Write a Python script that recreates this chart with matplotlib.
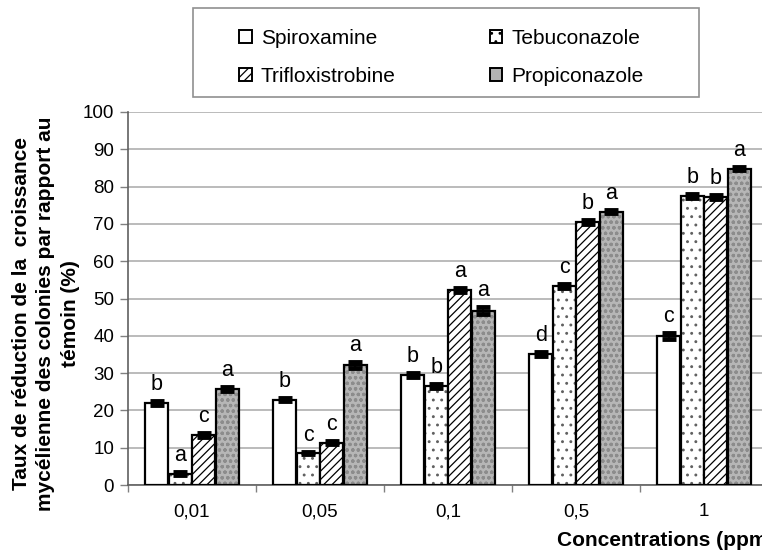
import matplotlib
matplotlib.use("Agg")
import matplotlib.pyplot as plt
from matplotlib.patches import Patch, Rectangle
import numpy as np

plt.rcParams['font.family'] = ['Liberation Sans', 'DejaVu Sans']
plt.rcParams['hatch.linewidth'] = 0.9

categories = ['0,01', '0,05', '0,1', '0,5', '1']
series = ['Spiroxamine', 'Tebuconazole', 'Trifloxistrobine', 'Propiconazole']
spiroxamine = [22.0, 22.8, 29.5, 35.2, 40.0]
tebuconazole = [3.0, 8.5, 26.5, 53.3, 77.5]
trifloxistrobine = [13.5, 11.3, 52.3, 70.5, 77.2]
propiconazole = [25.8, 32.3, 46.7, 73.3, 84.8]
err_spiro = [0.5, 0.4, 0.6, 0.5, 0.8]
err_tebu = [0.4, 0.3, 0.6, 0.6, 0.5]
err_trif = [0.5, 0.4, 0.5, 0.5, 0.5]
err_prop = [0.5, 0.8, 0.9, 0.5, 0.4]
letters_spiro = ['b', 'b', 'b', 'd', 'c']
letters_tebu = ['a', 'c', 'b', 'c', 'b']
letters_trif = ['c', 'c', 'a', 'b', 'b']
letters_prop = ['a', 'a', 'a', 'a', 'a']

values = [spiroxamine, tebuconazole, trifloxistrobine, propiconazole]
errors = [err_spiro, err_tebu, err_trif, err_prop]
letters = [letters_spiro, letters_tebu, letters_trif, letters_prop]

fig = plt.figure(figsize=(7.62, 5.56), dpi=100)
ax = fig.add_axes([128/762, 1-485/556, 640/762, (485-112)/556])

x = np.arange(len(categories))
step = 0.184
width = 0.178
for i, (vals, errs, lets) in enumerate(zip(values, errors, letters)):
    pos = x + (i - 1.5) * step
    if i == 0:
        ax.bar(pos, vals, width, facecolor='white', edgecolor='black',
               linewidth=1.6, zorder=3)
    elif i == 1:
        ax.bar(pos, vals, width, facecolor='white', edgecolor='#606060',
               hatch='..', linewidth=0, zorder=2)
        ax.bar(pos, vals, width, fill=False, edgecolor='black', linewidth=1.6, zorder=3)
    elif i == 2:
        ax.bar(pos, vals, width, facecolor='white', edgecolor='black',
               hatch='////', linewidth=1.6, zorder=3)
    else:
        ax.bar(pos, vals, width, facecolor='#b6b6b6', edgecolor='#8c8c8c',
               hatch='ooo', linewidth=0, zorder=2)
        ax.bar(pos, vals, width, fill=False, edgecolor='black', linewidth=1.6, zorder=3)
    ax.errorbar(pos, vals, yerr=errs, fmt='none', ecolor='black', elinewidth=1.2,
                capsize=5, capthick=3.5, zorder=4)
    for p, v, e, l in zip(pos, vals, errs, lets):
        ax.text(p, v + e + 1.6, l, ha='center', va='bottom', fontsize=15.5)

ax.set_xlim(-0.5, len(categories) - 0.5)
ax.set_ylim(0, 100)
ax.set_yticks(np.arange(0, 101, 10))
ax.yaxis.grid(True, color='#a8a8a8', linewidth=1.1, zorder=0)
ax.set_axisbelow(True)
ax.set_xticks(x)
ax.set_xticklabels(categories, fontsize=13.5)
ax.set_xticks(np.arange(-0.5, len(categories), 1.0), minor=True)
ax.tick_params(axis='x', which='major', length=0, pad=13)
ax.tick_params(axis='x', which='minor', length=5, color='#808080', width=1)
ax.tick_params(axis='y', length=6, color='#808080', width=1, labelsize=13.5, pad=4)
for s in ['top', 'right']:
    ax.spines[s].set_visible(False)
ax.spines['left'].set_color('#606060')
ax.spines['bottom'].set_color('#606060')
ax.spines['left'].set_linewidth(1.2)
ax.spines['bottom'].set_linewidth(1.2)

fig.text(46/762, 1-314/556,
         "Taux de réduction de la  croissance\nmycélienne des colonies par rapport au\ntémoin (%)",
         rotation=90, ha='center', va='center', fontsize=15, fontweight='bold',
         linespacing=1.35)
fig.text(557/762, 1-541/556, "Concentrations (ppm)", ha='left', va='center',
         fontsize=15, fontweight='bold')

# legend box
fig.patches.append(Rectangle((193/762, 1-97/556), 506/762, 89/556, transform=fig.transFigure,
                             fill=False, edgecolor='#909090', linewidth=1.2))
handles = [
    Patch(facecolor='white', edgecolor='black', linewidth=1.4),
    Patch(facecolor='white', edgecolor='black', hatch='////', linewidth=1.4),
    Patch(facecolor='white', edgecolor='black', hatch='..', linewidth=1.4),
    Patch(facecolor='#b4b4b4', edgecolor='black', linewidth=1.4),
]
labels = [series[0], series[2], series[1], series[3]]
fig.legend(handles, labels, ncol=2, loc='upper left', bbox_to_anchor=(239/762, 1-29/556),
           frameon=False, fontsize=15, borderpad=0, handlelength=0.6, handleheight=0.6,
           handletextpad=0.45, columnspacing=4.5, labelspacing=0.9, borderaxespad=0)

fig.savefig('out.png', dpi=100)
